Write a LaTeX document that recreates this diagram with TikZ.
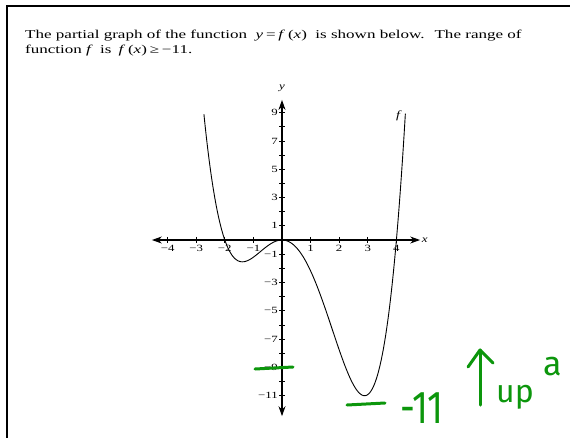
\documentclass[tikz,border=0pt]{standalone}
\usepackage{fontspec}
\setmainfont{Liberation Serif}
\newfontfamily\handfont{Fira Sans}
\usetikzlibrary{arrows.meta}
\definecolor{handgreen}{RGB}{12,150,12}
\newcommand{\wide}[2]{\scalebox{#1}[1]{#2}}
\begin{document}
\begin{tikzpicture}[x=1pt,y=-1pt,
  toptext/.style={anchor=base west, inner sep=0pt, font=\fontsize{12}{14}\selectfont},
  ticklab/.style={font=\fontsize{9.5}{10}\selectfont, inner sep=0pt},
  axisline/.style={line width=1.1pt, {Stealth[length=10pt,width=7pt]}-{Stealth[length=10pt,width=7pt]}},
  tickline/.style={line width=0.8pt},
  curve/.style={line width=0.9pt},
  greenmark/.style={draw=handgreen, line width=3pt, line cap=round, line join=round},
  hand/.style={text=handgreen, inner sep=0pt, anchor=base west}]
\useasboundingbox (0,0) rectangle (570,437);
% frame
\draw[line width=2.5pt] (7,440) -- (7,6) -- (575,6);
% question text
\node[toptext] (line1) at (25,38) {\wide{1.42}{The partial graph of the function \ \textit{y}\,=\,\textit{f}\,(\textit{x}) \ is shown below. \ The range of}};
\node[toptext] (line2) at (25,53) {\wide{1.42}{function \textit{f} \,is \,\textit{f}\,(\textit{x})\,≥\,−11.}};
% graph
\begin{scope}[shift={(282pt,-240pt)}, x=28.6pt, y=14.15pt]
  \coordinate (O) at (0,0);
  \coordinate (xl) at (-4.55,0);
  \coordinate (xr) at (4.83,0);
  \coordinate (yb) at (0,-12.45);
  \coordinate (yt) at (0,9.9);
  \draw[axisline] (xl) -- (xr);
  \draw[axisline] (yb) -- (yt);
  \foreach \i/\t in {-4/−4,-3/−3,-2/−2,-1/−1,1/1,2/2,3/3,4/4}
    \draw[tickline] (\i,0.22) -- (\i,-0.22) node[ticklab, anchor=north, yshift=-1.5pt] (xt\i) {\wide{1.35}{\t}};
  \foreach \i in {-11,...,-1,1,2,...,9}
    \draw[tickline] (-0.1,\i) -- (0.1,\i);
  \foreach \i/\t in {-11/−11,-9/−9,-7/−7,-5/−5,-3/−3,-1/−1,1/1,3/3,5/5,7/7,9/9}
    \node[ticklab, anchor=east] (yt\i) at (-0.14,\i) {\wide{1.35}{\t}};
  \node[font=\fontsize{10}{10}\selectfont\itshape, inner sep=0pt] (ylab) at (0,10.75) {\wide{1.3}{y}};
  \node[font=\fontsize{10}{10}\selectfont\itshape, inner sep=0pt, anchor=west] (xlab) at (4.88,0) {\wide{1.3}{x}};
  \draw[curve, domain=-2.73:4.315, samples=160, smooth]
    plot (\x, {0.2427*(\x+2)*\x*\x*(\x-4)});
  \node[font=\fontsize{11}{11}\selectfont\itshape, inner sep=0pt] (flab) at (4.06,8.75) {\wide{1.3}{f}};
\end{scope}
% green handwriting
\draw[greenmark] (255,369) -- (293,367);
\draw[greenmark] (347,405) -- (385,403);
\node[hand, font=\handfont\fontsize{46}{46}\selectfont] (m11) at (400,423) {\wide{0.8}{-11}};
\draw[greenmark] (480,405) -- (480,350);
\draw[greenmark] (468,367) -- (480,350) -- (493,363);
\node[hand, font=\handfont\fontsize{32}{32}\selectfont] (up) at (496,402) {up};
\node[hand, font=\handfont\fontsize{34}{34}\selectfont] (a) at (543,375) {a};
\end{tikzpicture}
\end{document}
